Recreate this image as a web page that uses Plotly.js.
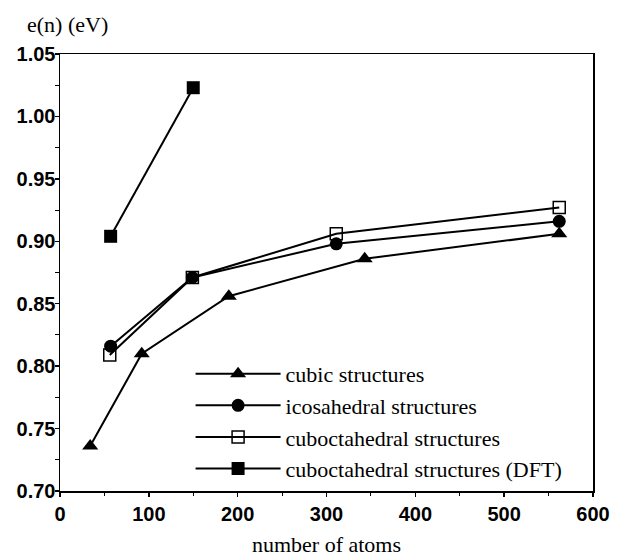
<!DOCTYPE html>
<html>
<head>
<meta charset="utf-8">
<script src="https://cdn.plot.ly/plotly-3.0.1.min.js"></script>
<style>html,body{margin:0;padding:0;background:#fff;}#chart{width:620px;height:558px;}</style>
</head>
<body>
<div id="chart"></div>
<script>
// Data
const cubicN = [34, 92, 190, 343, 562];
const cubicE = [0.736, 0.810, 0.856, 0.886, 0.906];

const icoN = [57, 149, 311, 562];
const icoE = [0.816, 0.871, 0.898, 0.916];

const cuboN = [56, 149, 311, 562];
const cuboE = [0.809, 0.871, 0.906, 0.927];

const dftN = [57, 150];
const dftE = [0.904, 1.023];

const seriesNames = [
  "cubic structures",
  "icosahedral structures",
  "cuboctahedral structures",
  "cuboctahedral structures (DFT)"
];

const xTicks = [0, 100, 200, 300, 400, 500, 600];
const yTicks = [0.70, 0.75, 0.80, 0.85, 0.90, 0.95, 1.00, 1.05];

const serif = "Liberation Serif, Times New Roman, serif";
const sans = "Liberation Sans, Arial, Helvetica, sans-serif";

const lineStyle = {color: "#000", width: 2};

const traces = [
  {x: cubicN, y: cubicE, name: seriesNames[0],
   mode: "lines+markers", line: lineStyle,
   marker: {symbol: "triangle-up", size: 14, color: "#000"}},
  {x: icoN, y: icoE, name: seriesNames[1],
   mode: "lines+markers", line: lineStyle,
   marker: {symbol: "circle", size: 13, color: "#000"}},
  {x: cuboN, y: cuboE, name: seriesNames[2],
   mode: "lines+markers", line: lineStyle,
   marker: {symbol: "square-open", size: 12, color: "#000", line: {width: 1.5, color: "#000"}}},
  {x: dftN, y: dftE, name: seriesNames[3],
   mode: "lines+markers", line: lineStyle,
   marker: {symbol: "square", size: 13, color: "#000"}}
];

const layout = {
  width: 620, height: 558,
  margin: {l: 60, r: 27, t: 54, b: 67},
  paper_bgcolor: "#fff", plot_bgcolor: "#fff",
  showlegend: true,
  legend: {
    x: 0.245, xanchor: "left", y: 0.316, yanchor: "top",
    bgcolor: "rgba(0,0,0,0)", borderwidth: 0,
    font: {family: serif, size: 22, color: "#000"},
    itemwidth: 85, traceorder: "normal"
  },
  xaxis: {
    range: [0, 600], tickvals: xTicks, ticktext: xTicks.map(String),
    showline: true, mirror: true, linecolor: "#000", linewidth: 1.5,
    showgrid: false, zeroline: false,
    ticks: "outside", ticklen: 4, tickcolor: "#000", tickwidth: 1.5,
    tickfont: {family: sans, size: 20, color: "#000", weight: "bold"},
    minor: {dtick: 50, ticks: "outside", ticklen: 3, tickcolor: "#000", tickwidth: 1},
    title: {text: "number of atoms", font: {family: serif, size: 22, color: "#000"}, standoff: 13}
  },
  yaxis: {
    range: [0.70, 1.05], tickvals: yTicks, ticktext: yTicks.map(v => v.toFixed(2)),
    showline: true, mirror: true, linecolor: "#000", linewidth: 1.5,
    showgrid: false, zeroline: false,
    ticks: "outside", ticklen: 4, tickcolor: "#000", tickwidth: 1.5,
    ticklabelstandoff: -5,
    tickfont: {family: sans, size: 20, color: "#000", weight: "bold"},
    minor: {dtick: 0.025, ticks: "outside", ticklen: 4, tickcolor: "#000", tickwidth: 1}
  },
  annotations: [
    {text: "e(n) (eV)", xref: "paper", yref: "paper", x: -0.066, y: 1.0, yshift: 30,
     xanchor: "left", yanchor: "middle", showarrow: false,
     font: {family: serif, size: 22, color: "#000"}}
  ]
};

Plotly.newPlot("chart", traces, layout, {displayModeBar: false, staticPlot: true});
</script>
</body>
</html>
